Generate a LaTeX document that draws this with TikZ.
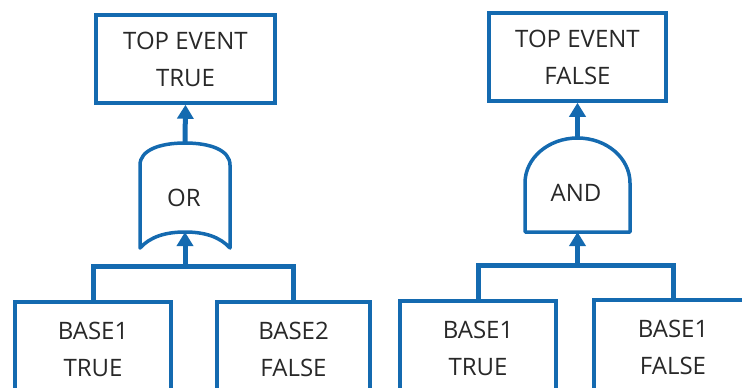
\documentclass[tikz,border=0pt]{standalone}
\usepackage{fontspec}
\setmainfont{Open Sans}
\usetikzlibrary{arrows.meta}
\definecolor{ftblue}{RGB}{20,106,176}
\definecolor{fttext}{RGB}{40,40,40}

\begin{document}
\begin{tikzpicture}[x=1pt,y=-1pt,>={Triangle[width=16pt,length=14pt]},
    every node/.style={text=fttext,font=\fontsize{24}{37}\selectfont,align=center},
    event/.style={draw=ftblue,line width=3.5pt,minimum width=#1,inner sep=0pt},
    gate/.style={draw=ftblue,line width=3.5pt,line join=round,line cap=round},
    link/.style={draw=ftblue,line width=5pt}]
    \useasboundingbox (0,0) rectangle (742,388);
    \clip (0,0) rectangle (742,388);
    % OR tree
    \node[event=179pt,minimum height=88pt] (top1) at (185.5,59) {TOP EVENT\\TRUE};
    \node (or) at (184,198) {OR};
    \coordinate (orout) at (185,143);
    \coordinate (orin)  at (185,232);
    \coordinate (j1)    at (185,266);
    \node[event=156pt,minimum height=94pt] (b1) at (93,349)    {BASE1\\TRUE};
    \node[event=153pt,minimum height=94pt] (b2) at (293.5,349) {BASE2\\FALSE};
    \draw[gate] (140,248) -- (140,165) .. controls (140,150) and (160,143) .. (orout)
        .. controls (210,143) and (230,150) .. (230,165) -- (230,248)
        .. controls (220,237) and (205,232) .. (orin)
        .. controls (165,232) and (150,237) .. (140,248);
    \draw[link,->] (orout) -- (top1.south);
    \draw[link] (b1.north) |- (j1) -| (b2.north);
    \draw[link,->] (j1) -- (orin);
    % AND tree
    \node[event=177pt,minimum height=88pt] (top2) at (577.5,57) {TOP EVENT\\FALSE};
    \node (and) at (576,193) {AND};
    \coordinate (andout) at (577.5,138);
    \coordinate (andin)  at (577.5,232);
    \coordinate (j2)     at (577.5,265);
    \node[event=156pt,minimum height=94pt] (b3) at (478,348) {BASE1\\TRUE};
    \node[event=158pt,minimum height=94pt] (b4) at (673,347) {BASE1\\FALSE};
    \draw[gate] (525,232) -- (525,183) .. controls (525,158) and (548.5,138) .. (andout)
        .. controls (606.5,138) and (630,158) .. (630,183) -- (630,232) -- cycle;
    \draw[link,->] (andout) -- (top2.south);
    \draw[link] (b3.north) |- (j2) -| (b4.north);
    \draw[link,->] (j2) -- (andin);
\end{tikzpicture}
\end{document}
